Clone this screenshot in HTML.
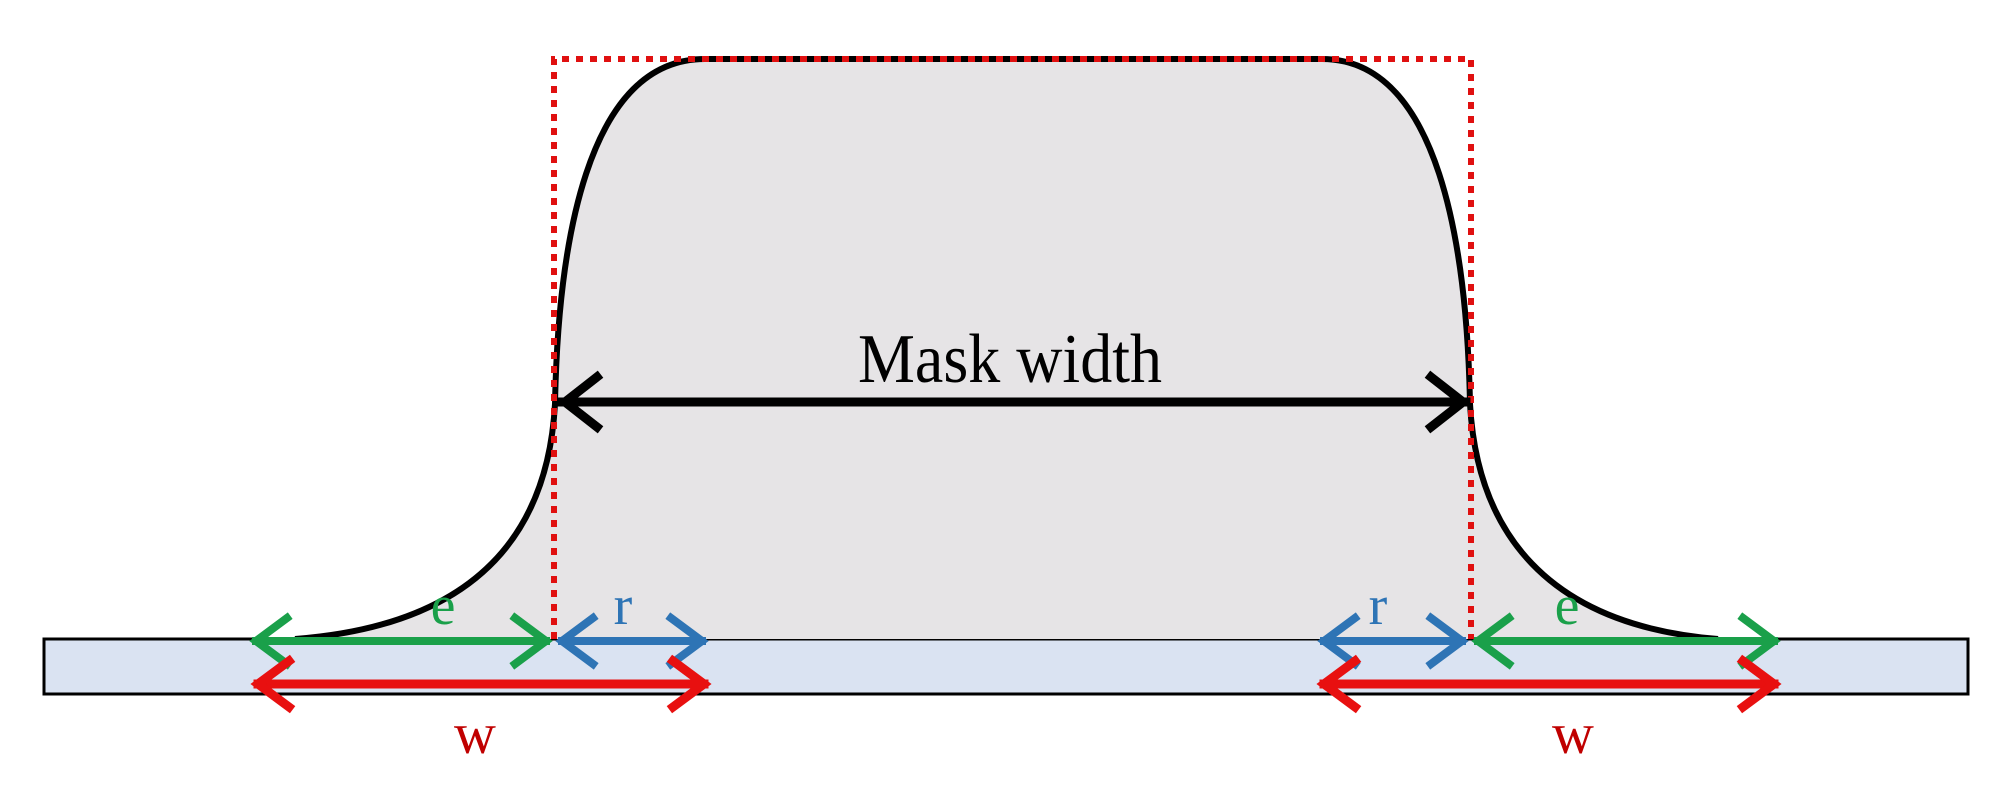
<!DOCTYPE html>
<html><head><style>html,body{margin:0;padding:0;background:#fff;}svg{display:block}</style></head>
<body>
<svg width="2000" height="800" viewBox="0 0 2000 800" xmlns="http://www.w3.org/2000/svg">
<rect x="44" y="639" width="1924" height="55" fill="#dae3f2" stroke="#000" stroke-width="3"/>
<path d="M295,639 C480,625 548,530 555,404 C558,250 585,59 705,59 L1322,59 C1440,59 1467,250 1470,404 C1477,530 1545,625 1718,639 Z" fill="#e6e4e6" stroke="none"/>
<path d="M295,639 C480,625 548,530 555,404 C558,250 585,59 705,59 L1322,59 C1440,59 1467,250 1470,404 C1477,530 1545,625 1718,639" fill="none" stroke="#000" stroke-width="6"/>
<path d="M554,639 L554,59 L1471,59 L1471,639" fill="none" stroke="#e01010" stroke-width="6" stroke-dasharray="7,7"/>
<g stroke-linecap="square" fill="none">
<g stroke="#000" stroke-width="9"><path d="M562,402 H1466"/><path d="M597,377 L565,402 L597,427"/><path d="M1431,377 L1463,402 L1431,427"/></g>
<g stroke="#1aa04a" stroke-width="8"><path d="M256,641 H546"/><path d="M287,618 L256,641 L287,664"/><path d="M515,618 L546,641 L515,664"/><path d="M1478,641 H1774"/><path d="M1509,618 L1478,641 L1509,664"/><path d="M1743,618 L1774,641 L1743,664"/></g>
<g stroke="#2e74b5" stroke-width="8"><path d="M562,641 H702"/><path d="M593,618 L562,641 L593,664"/><path d="M671,618 L702,641 L671,664"/><path d="M1324,641 H1462"/><path d="M1355,618 L1324,641 L1355,664"/><path d="M1431,618 L1462,641 L1431,664"/></g>
<g stroke="#e81010" stroke-width="9"><path d="M258,684 H704"/><path d="M289,661 L258,684 L289,707"/><path d="M673,661 L704,684 L673,707"/><path d="M1324,684 H1774"/><path d="M1355,661 L1324,684 L1355,707"/><path d="M1743,661 L1774,684 L1743,707"/></g>
</g>
<g font-family="Liberation Serif, serif" text-anchor="middle">
<text x="1010" y="382" font-size="64" fill="#000" transform="translate(1010,382) scale(1,1.1) translate(-1010,-382)">Mask width</text>
<text x="443" y="624" font-size="56" fill="#1aa04a">e</text>
<text x="623" y="624" font-size="56" fill="#2e74b5">r</text>
<text x="1378" y="624" font-size="56" fill="#2e74b5">r</text>
<text x="1567" y="624" font-size="56" fill="#1aa04a">e</text>
<text x="475" y="753" font-size="58" fill="#c00000">w</text>
<text x="1573" y="753" font-size="58" fill="#c00000">w</text>
</g>
</svg>
</body></html>
